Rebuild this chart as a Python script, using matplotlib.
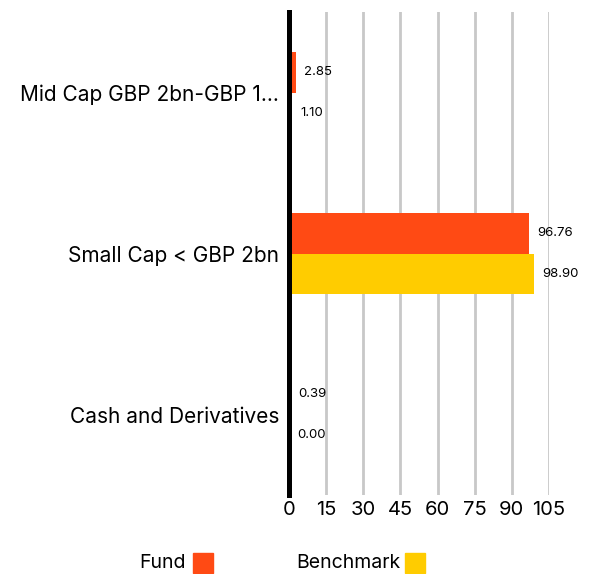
import matplotlib.pyplot as plt
from matplotlib.patches import Rectangle
import numpy as np

plt.rcParams['font.family'] = ['Inter', 'DejaVu Sans']

categories = ['Mid Cap GBP 2bn-GBP 1...', 'Small Cap < GBP 2bn', 'Cash and Derivatives']
fund = [2.85, 96.76, 0.39]
benchmark = [1.10, 98.90, 0.00]
ticks = [0, 15, 30, 45, 60, 75, 90, 105]

fund_color = '#FF4A14'
bench_color = '#FFCC00'

fig = plt.figure(figsize=(5.97, 5.74), dpi=100)
ax = fig.add_axes([289 / 597, 1 - 495 / 574, 260 / 597, 483 / 574])

y = np.arange(len(categories))
h = 0.25
ax.barh(y - h / 2, fund, height=h, color=fund_color, zorder=3)
ax.barh(y + h / 2, benchmark, height=h, color=bench_color, zorder=3)

# value labels just right of the bar ends
for i in range(len(categories)):
    ax.annotate(f'{fund[i]:.2f}', (fund[i], y[i] - h / 2), xytext=(6, 0),
                textcoords='offset points', va='center', fontsize=9.5)
    ax.annotate(f'{benchmark[i]:.2f}', (benchmark[i], y[i] + h / 2), xytext=(6, 0),
                textcoords='offset points', va='center', fontsize=9.5)

ax.set_xlim(0, 105)
ax.set_ylim(2.5, -0.5)
ax.set_xticks(ticks)
ax.set_xticklabels([str(t) for t in ticks], fontsize=14.5)
ax.set_yticks(y)
ax.set_yticklabels(categories, fontsize=15)
ax.tick_params(axis='both', length=0)
ax.tick_params(axis='y', pad=7)
ax.tick_params(axis='x', pad=4)
ax.grid(axis='x', color='#c8c8c8', linewidth=2, zorder=0)
for s in ['top', 'right', 'bottom']:
    ax.spines[s].set_visible(False)
ax.spines['left'].set_linewidth(3.6)
ax.spines['left'].set_zorder(4)

# legend along the bottom
fig.text(186 / 597, 1 - 563 / 574, 'Fund', ha='right', va='center', fontsize=14)
fig.patches.append(Rectangle((193 / 597, 1 - 573 / 574), 20 / 597, 20 / 574,
                             transform=fig.transFigure, color=fund_color))
fig.text(400 / 597, 1 - 563 / 574, 'Benchmark', ha='right', va='center', fontsize=14)
fig.patches.append(Rectangle((405 / 597, 1 - 573 / 574), 20 / 597, 20 / 574,
                             transform=fig.transFigure, color=bench_color))

fig.savefig('out.png', dpi=100)
